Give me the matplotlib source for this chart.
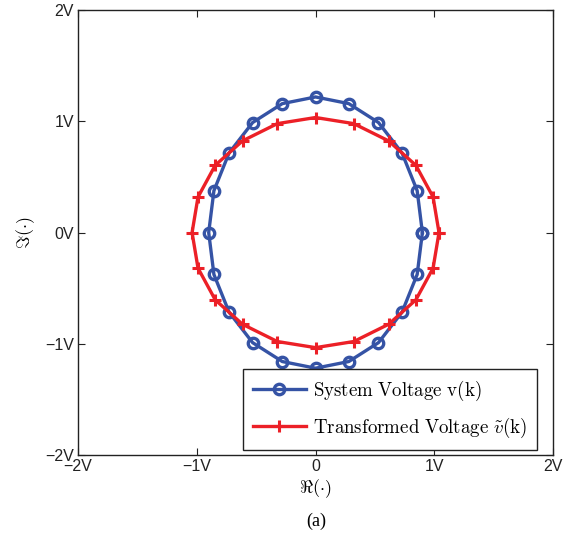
import matplotlib
matplotlib.use("Agg")
import matplotlib.pyplot as plt
import numpy as np

plt.rcParams['mathtext.fontset'] = 'cm'
plt.rcParams['font.family'] = ['Liberation Sans', 'DejaVu Sans']

# system voltage v(k) (closed loop)
sys_re = [0.90, 0.856, 0.728, 0.53, 0.28, 0.0, -0.28, -0.53, -0.728, -0.856,
          -0.90, -0.856, -0.728, -0.53, -0.28, 0.0, 0.28, 0.53, 0.728, 0.856, 0.90]
sys_im = [0.0, 0.377, 0.717, 0.99, 1.16, 1.22, 1.16, 0.99, 0.717, 0.377,
          0.0, -0.377, -0.717, -0.99, -1.16, -1.22, -1.16, -0.99, -0.717, -0.377, 0.0]

# transformed voltage
tr_re = [1.04, 0.99, 0.845, 0.615, 0.322, 0.0, -0.322, -0.615, -0.845, -0.99,
         -1.04, -0.99, -0.845, -0.615, -0.322, 0.0, 0.322, 0.615, 0.845, 0.99, 1.04]
tr_im = [0.0, 0.32, 0.605, 0.825, 0.98, 1.035, 0.98, 0.825, 0.605, 0.32,
         0.0, -0.32, -0.605, -0.825, -0.98, -1.035, -0.98, -0.825, -0.605, -0.32, 0.0]

ticks = [-2, -1, 0, 1, 2]
xtick_labels = ['\u22122V', '\u22121V', '0', '1V', '2V']
ytick_labels = ['\u22122V', '\u22121V', '0V', '1V', '2V']

blue = '#3553a5'
red = '#ec2027'

fig = plt.figure(figsize=(5.66, 5.39), dpi=100)
ax = fig.add_axes([0.138, 0.156, 0.839, 0.825])

ax.plot(sys_re, sys_im, '-o', color=blue, lw=2.4, markersize=7.5,
        markerfacecolor='none', markeredgewidth=2.4,
        label=r'$\mathrm{System\ Voltage\ v(k)}$')
ax.plot(tr_re, tr_im, '-+', color=red, lw=2.4, markersize=9,
        markeredgewidth=2.2,
        label=r'$\mathrm{Transformed\ Voltage\ }\tilde{v}\mathrm{(k)}$')

ax.set_xlim(-2, 2)
ax.set_ylim(-2, 2)
ax.set_xticks(ticks)
ax.set_xticklabels(xtick_labels)
ax.set_yticks(ticks)
ax.set_yticklabels(ytick_labels)
ax.tick_params(direction='in', length=5, width=0.8, top=True, right=True,
               labelsize=11.5, pad=3, colors='#222222')
for sp in ax.spines.values():
    sp.set_linewidth(1.0)
    sp.set_color('#222222')

ax.set_xlabel(r'$\Re(\cdot)$', fontsize=13, labelpad=2)
ax.set_ylabel(r'$\Im(\cdot)$', fontsize=13, labelpad=6)

leg = ax.legend(loc='lower right', bbox_to_anchor=(0.966, 0.011),
                borderaxespad=0, fancybox=False, framealpha=1,
                edgecolor='#222222', fontsize=13.6, handlelength=2.8,
                labelspacing=0.65, borderpad=0.55, handletextpad=0.35)
leg.get_frame().set_linewidth(1.0)

fig.text(0.558, 0.032, '(a)', fontsize=13, family='Liberation Serif',
         ha='center', va='center')

fig.savefig('out.png', dpi=100)
